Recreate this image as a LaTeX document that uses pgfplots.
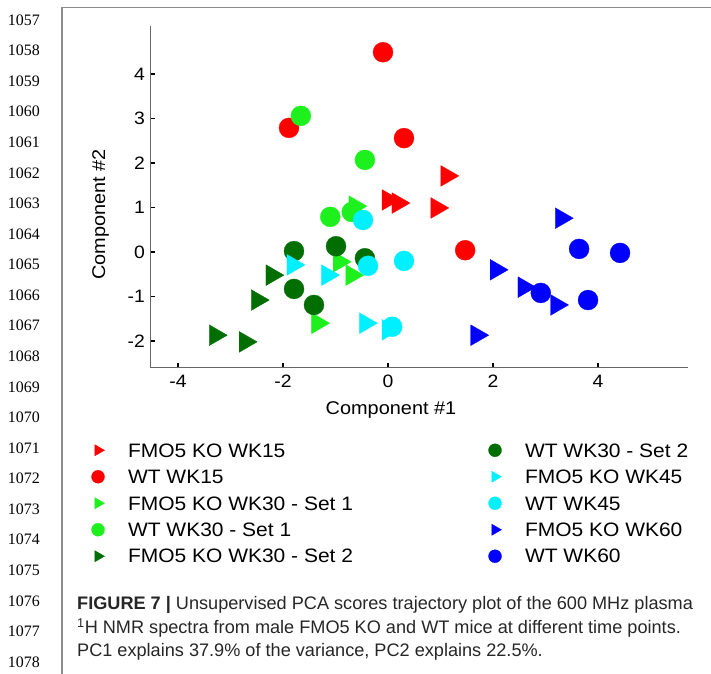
\documentclass[border=0pt]{standalone}
\usepackage{fontspec}
\setmainfont[FakeStretch=1.08]{Liberation Sans}
\newfontfamily\capfont{Liberation Sans}
\newfontfamily\numfont{Liberation Serif}
\usepackage{pgfplots}
\pgfplotsset{compat=1.18}

\definecolor{cRed}{RGB}{255,0,0}
\definecolor{cLime}{RGB}{30,240,30}
\definecolor{cDark}{RGB}{0,110,0}
\definecolor{cCyan}{RGB}{0,240,255}
\definecolor{cBlue}{RGB}{0,0,255}
\definecolor{frameGray}{RGB}{140,140,140}

\pgfplotsset{
  ko/.style={only marks, mark=triangle*, mark size=12bp,
    mark options={rotate=-90, fill=#1, draw=#1, line width=0.3bp}},
  wt/.style={only marks, mark=*, mark size=10bp,
    mark options={fill=#1, draw=#1, line width=0.3bp}},
}

\begin{document}
\begin{tikzpicture}[x=1bp,y=1bp]
\useasboundingbox (0,0) rectangle (711,674);
% page furniture
\draw[frameGray, line width=1.2bp] (62,0) -- (62,666.5) -- (711,666.5);
\foreach \n [count=\i from 0] in {1057,...,1078}
  \node[anchor=east, inner sep=0pt, font=\numfont\fontsize{16}{16}\selectfont]
    at (40,{654-30.57*\i}) {\n};
\coordinate (axSW) at (150,306);

\begin{axis}[
  at={(axSW)}, anchor=south west,
  scale only axis, width=538bp, height=342bp,
  xmin=-4.533, xmax=5.714, ymin=-2.607, ymax=5.08,
  axis lines*=left,
  axis line style={black!60, line width=1bp},
  xtick={-4,-2,0,2,4}, ytick={-2,-1,0,1,2,3,4},
  tick align=inside, major tick length=5bp,
  tick style={black, line width=1.5bp},
  /pgf/number format/assume math mode=true,
  ticklabel style={font=\fontsize{18}{18}\selectfont},
  xticklabel style={anchor=north, inner sep=0pt, yshift=-7bp},
  yticklabel style={anchor=east, inner sep=0pt, xshift=-5bp},
  clip=false,
  legend columns=2,
  legend cell align=left,
  legend image code/.code={\draw[#1, mark size=6.5bp] plot coordinates {(0bp,0bp)};},
  legend style={at={(axis description cs:-0.1087,-0.2164)}, anchor=north west,
    draw=none, fill=none, inner sep=0pt, outer sep=0pt, row sep=10bp,
    font=\fontsize{19.5}{19.5}\selectfont,
    nodes={inner xsep=0pt, inner ysep=0pt},
    /tikz/every odd column/.append style={column sep=23.5bp},
    /tikz/every even column/.append style={column sep=0bp}},
]
% FMO5 KO WK15
\addplot[ko=cRed, forget plot] coordinates {(0.0,1.17) (0.19,1.10) (1.12,1.71) (0.93,0.99)};
% WT WK15
\addplot[wt=cRed, forget plot] coordinates {(-0.095,4.49) (-1.886,2.79) (0.305,2.56) (1.47,0.04)};
% FMO5 KO WK30 - Set 1
\addplot[ko=cLime, forget plot] coordinates {(-0.63,1.03) (-0.93,-0.22) (-0.69,-0.52) (-1.34,-1.60)};
% WT WK30 - Set 1
\addplot[wt=cLime, forget plot] coordinates {(-1.66,3.06) (-0.44,2.07) (-1.10,0.79) (-0.69,0.90)};
% FMO5 KO WK30 - Set 2
\addplot[ko=cDark, forget plot] coordinates {(-2.21,-0.52) (-2.49,-1.08) (-3.29,-1.87) (-2.72,-2.02)};
% WT WK30 - Set 2
\addplot[wt=cDark, forget plot] coordinates {(-1.79,0.02) (-0.99,0.13) (-0.44,-0.14) (-1.79,-0.83) (-1.41,-1.19)};
% FMO5 KO WK45
\addplot[ko=cCyan, forget plot] coordinates {(-1.81,-0.29) (-1.15,-0.52) (-0.43,-1.60) (0.0,-1.75)};
% WT WK45
\addplot[wt=cCyan, forget plot] coordinates {(-0.476,0.72) (-0.38,-0.31) (0.305,-0.20) (0.08,-1.68)};
% FMO5 KO WK60
\addplot[ko=cBlue, forget plot] coordinates {(3.30,0.76) (2.06,-0.40) (2.59,-0.79) (3.21,-1.19) (1.69,-1.87)};
% WT WK60
\addplot[wt=cBlue, forget plot] coordinates {(3.64,0.07) (4.42,-0.02) (2.91,-0.92) (3.81,-1.08)};

% legend, row by row (left column, right column)
\addlegendimage{ko=cRed}   \addlegendentry{\makebox[360.5bp][l]{\rule{0pt}{15bp}FMO5 KO WK15}}
\addlegendimage{wt=cDark}  \addlegendentry{\rule{0pt}{15bp}WT WK30 - Set 2}
\addlegendimage{wt=cRed}   \addlegendentry{\makebox[360.5bp][l]{\rule{0pt}{15bp}WT WK15}}
\addlegendimage{ko=cCyan}  \addlegendentry{\rule{0pt}{15bp}FMO5 KO WK45}
\addlegendimage{ko=cLime}  \addlegendentry{\makebox[360.5bp][l]{\rule{0pt}{15bp}FMO5 KO WK30 - Set 1}}
\addlegendimage{wt=cCyan}  \addlegendentry{\rule{0pt}{15bp}WT WK45}
\addlegendimage{wt=cLime}  \addlegendentry{\makebox[360.5bp][l]{\rule{0pt}{15bp}WT WK30 - Set 1}}
\addlegendimage{ko=cBlue}  \addlegendentry{\rule{0pt}{15bp}FMO5 KO WK60}
\addlegendimage{ko=cDark}  \addlegendentry{\makebox[360.5bp][l]{\rule{0pt}{15bp}FMO5 KO WK30 - Set 2}}
\addlegendimage{wt=cBlue}  \addlegendentry{\rule{0pt}{15bp}WT WK60}
\end{axis}

\node[anchor=base, inner sep=0pt, font=\fontsize{18.5}{18.5}\selectfont] at (391,259) {Component \#1};
\node[anchor=base, rotate=90, inner sep=0pt, font=\fontsize{18.5}{18.5}\selectfont] at (105,459.5) {Component \#2};

\begin{scope}[every node/.style={anchor=base west, inner sep=0pt, text=black!85,
    font=\capfont\fontsize{18.2}{18.2}\selectfont}]
\node at (77,64) {\textbf{FIGURE 7 |} Unsupervised PCA scores trajectory plot of the 600 MHz plasma};
\node at (77,40.5) {\textsuperscript{1}H NMR spectra from male FMO5 KO and WT mice at different time points.};
\node at (77,17) {PC1 explains 37.9\% of the variance, PC2 explains 22.5\%.};
\end{scope}
\end{tikzpicture}
\end{document}
